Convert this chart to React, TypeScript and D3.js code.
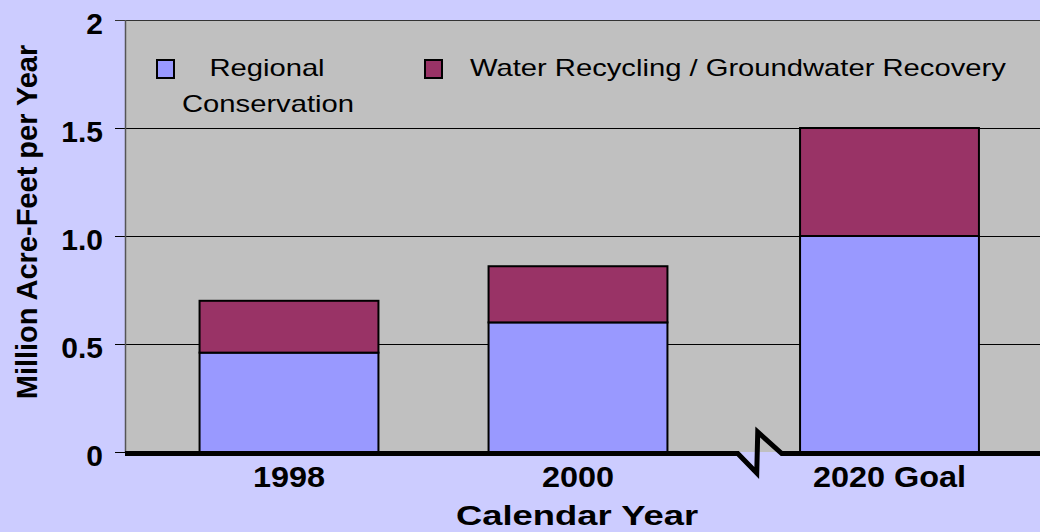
import React from 'react';
import * as d3 from 'd3';

const categories = ['1998', '2000', '2020 Goal'];
const conservation = [0.46, 0.6, 1.0];
const recycling = [0.24, 0.26, 0.5];
const seriesKeys = ['conservation', 'recycling'];
const seriesLegend = [['Regional', 'Conservation'], ['Water Recycling / Groundwater Recovery']];
const seriesColors = ['#9999FF', '#993366'];
const yTicks = [0, 0.5, 1.0, 1.5, 2];
const yTickLabels = ['0', '0.5', '1.0', '1.5', '2'];
const breakAfter = '2000';
const yTitle = 'Million Acre-Feet per Year';
const xTitle = 'Calendar Year';

const FONT = '"Liberation Sans", Arial, Helvetica, sans-serif';

function SText({ x, y, sx = 1, anchor = 'start', size, weight = 'normal', children }: any) {
  return (
    <text
      transform={`translate(${x},${y}) scale(${sx},1)`}
      textAnchor={anchor}
      fontFamily={FONT}
      fontSize={size}
      fontWeight={weight}
      fill="#000"
    >
      {children}
    </text>
  );
}

export default function App() {
  const W = 1040;
  const H = 532;
  const left = 125;
  const top = 20;
  const bottom = 452;
  const right = 1040;

  const y = d3.scaleLinear().domain([0, 2]).range([bottom, top]);
  const x = d3
    .scaleBand<string>()
    .domain(categories)
    .range([left, 1031])
    .paddingInner(0.381)
    .paddingOuter(0.258);
  const bw = x.bandwidth();
  const breakGap = 22.5;
  const breakIdx = categories.indexOf(breakAfter);
  const bx = (c: string) => (x(c) as number) + (categories.indexOf(c) > breakIdx ? breakGap : 0);

  const rows = categories.map((c, i) => ({ cat: c, conservation: conservation[i], recycling: recycling[i] }));
  const stacked = d3.stack<any>().keys(seriesKeys)(rows);

  const afterBreak = categories[breakIdx + 1];
  const breakCx = ((x(breakAfter) as number) + bw + bx(afterBreak)) / 2 + 24;
  const y0 = bottom + 1.5;
  const basePath = d3.line()([
    [left, y0],
    [breakCx - 20, y0],
    [breakCx - 1, y0 + 19.5],
    [breakCx, y0 - 21.5],
    [breakCx + 24, y0],
    [right + 5, y0],
  ]);

  return (
    <svg
      width={W}
      height={H}
      style={{ position: 'absolute', left: 0, top: 0, display: 'block' }}
    >
      <rect x={0} y={0} width={W} height={H} fill="#CCCCFF" />
      <rect x={left} y={top} width={right - left + 5} height={bottom - top} fill="#C0C0C0" />
      {/* gridlines and ticks */}
      {yTicks.map((t, i) => (
        <g key={i}>
          {t > 0 && (
            <line
              x1={115}
              x2={right + 5}
              y1={y(t) + 0.5}
              y2={y(t) + 0.5}
              stroke={t === 2 ? '#333' : '#000'}
              strokeWidth={1}
            />
          )}
          {t === 0 && <line x1={115} x2={left} y1={y(t) + 0.5} y2={y(t) + 0.5} stroke="#000" strokeWidth={1} />}
          <SText x={103} y={y(t) + 14} anchor="end" size={30} weight="bold">
            {yTickLabels[i]}
          </SText>
        </g>
      ))}
      <line x1={left + 0.5} x2={left + 0.5} y1={top} y2={bottom} stroke="#555" strokeWidth={1.5} />
      {/* bars */}
      {stacked.map((s, si) => (
        <g key={si}>
          {s.map((d, i) => (
            <rect
              key={i}
              x={bx(categories[i])}
              y={y(d[1])}
              width={bw}
              height={y(d[0]) - y(d[1])}
              fill={seriesColors[si]}
              stroke="#000"
              strokeWidth={2}
            />
          ))}
        </g>
      ))}
      {/* baseline with break */}
      <path d={basePath || ''} fill="none" stroke="#000" strokeWidth={5} strokeLinejoin="miter" strokeMiterlimit={10} />
      {/* category labels */}
      {categories.map((c, i) => (
        <SText key={i} x={bx(c) + bw / 2} y={487} anchor="middle" size={30} weight="bold" sx={1.08}>
          {c}
        </SText>
      ))}
      {/* axis titles */}
      <text
        transform={`translate(37,222) rotate(-90)`}
        textAnchor="middle"
        fontFamily={FONT}
        fontSize={29}
        fontWeight="bold"
      >
        {yTitle}
      </text>
      <SText x={577} y={525} anchor="middle" size={28} weight="bold" sx={1.3}>
        {xTitle}
      </SText>
      {/* legend */}
      <rect x={157} y={60} width={17} height={18} fill={seriesColors[0]} stroke="#000" strokeWidth={2} />
      <SText x={267} y={76} anchor="middle" size={23} sx={1.27}>
        {seriesLegend[0][0]}
      </SText>
      <SText x={268} y={112} anchor="middle" size={23} sx={1.27}>
        {seriesLegend[0][1]}
      </SText>
      <rect x={425} y={60} width={17} height={18} fill={seriesColors[1]} stroke="#000" strokeWidth={2} />
      <SText x={470} y={76} size={23} sx={1.27}>
        {seriesLegend[1][0]}
      </SText>
    </svg>
  );
}
